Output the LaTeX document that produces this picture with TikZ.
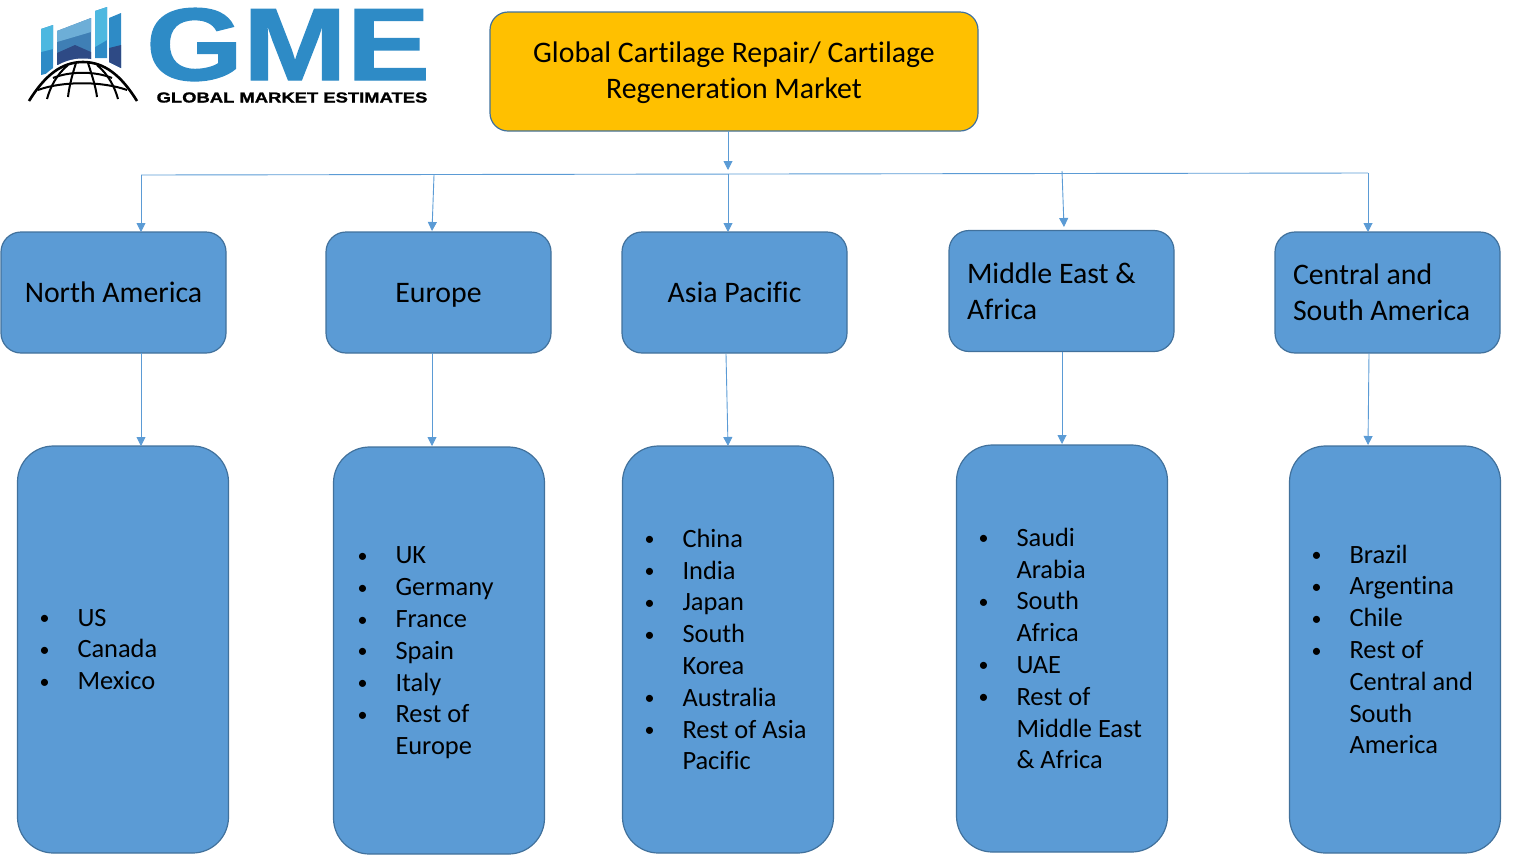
\documentclass[tikz,border=0pt]{standalone}
\usepackage{fontspec}
\setmainfont{Carlito}[Ligatures=NoCommon]
\newfontfamily\logofont{Liberation Sans}[FakeBold=1.2]
\usepackage{tikz}
\usetikzlibrary{positioning}
\usetikzlibrary{arrows.meta}

\definecolor{boxblue}{HTML}{5B9BD5}
\definecolor{boxedge}{HTML}{41719C}
\definecolor{gold}{HTML}{FFC000}
\definecolor{gmeblue}{HTML}{2E8BC6}
\definecolor{gmelight}{HTML}{4DB8E0}
\definecolor{gmemid}{HTML}{3F7FB5}
\definecolor{gmedark}{HTML}{2E4A85}

\tikzset{
    rootbox/.style={draw=boxedge, fill=gold, line width=1.2pt, rounded corners=18pt, outer sep=0pt, minimum width=488pt, minimum height=119pt, align=center, font=\fontsize{29.8}{36}\selectfont},
    regionbox/.style={draw=boxedge, fill=boxblue, line width=1.2pt, rounded corners=20pt, outer sep=0pt, minimum width=225pt, minimum height=121pt, font=\fontsize{29.8}{36}\selectfont},
    onelinebox/.style={regionbox, text height=19pt, text depth=0pt},
    twolinebox/.style={regionbox, align=flush left, text width=189pt, inner xsep=18pt},
    listbox/.style={draw=boxedge, fill=boxblue, line width=1.2pt, rounded corners=36pt, outer sep=0pt, minimum width=211pt, minimum height=407pt, inner xsep=10pt, text width=191pt, align=flush left, font=\fontsize{26.4}{31.8}\selectfont},
    link/.style={draw=boxblue, line width=0.9pt, -{Triangle[width=9pt,length=9pt]}},
    globeline/.style={draw=black, line width=2pt}
}
\newcommand{\bul}{\makebox[50pt][l]{\hspace{12pt}\raisebox{1.5pt}{\fontsize{20}{20}\selectfont\textbullet}}}
\newcommand{\nobul}{\makebox[50pt][l]{}}

\begin{document}
\begin{tikzpicture}[x=1pt, y=-1pt]
    \useasboundingbox (0,0) rectangle (1525,855);

    % logo
    \fill[gmeblue] (41,29) -- (53,25) -- (53,72) -- (41,75) -- cycle;
    \fill[gmelight] (41,29) -- (53,25) -- (53,49) -- (41,52) -- cycle;
    \fill[gmemid] (57,31) -- (91,18) -- (91,60) -- (57,65) -- cycle;
    \fill[gmedark] (57,53) -- (75,45) -- (91,52) -- (91,60) -- (57,65) -- cycle;
    \fill[gmeblue!70!white] (57,31) -- (91,18) -- (91,32) -- (57,42) -- cycle;
    \fill[gmeblue] (95,11) -- (107,7) -- (107,58) -- (95,58) -- cycle;
    \fill[gmelight] (95,11) -- (107,7) -- (107,40) -- (95,47) -- cycle;
    \fill[gmeblue] (109,18) -- (121,13) -- (121,68) -- (109,62) -- cycle;
    \fill[gmedark] (109,48) -- (121,45) -- (121,68) -- (109,62) -- cycle;
    \draw[white, line width=7pt] (29,101) .. controls (45,75) and (62,62) .. (83,62) .. controls (104,62) and (121,75) .. (137,101);
    \draw[globeline, line width=2.6pt] (29,101) .. controls (45,75) and (62,62) .. (83,62) .. controls (104,62) and (121,75) .. (137,101);
    \draw[globeline] (53,78) .. controls (70,71) and (95,71) .. (112,78);
    \draw[globeline] (38,90) .. controls (62,81) and (102,81) .. (127,90);
    \draw[globeline] (68,65) .. controls (56,75) and (50,88) .. (47,99);
    \draw[globeline] (76,63) .. controls (72,75) and (69,88) .. (68,97);
    \draw[globeline] (88,63) .. controls (92,75) and (96,88) .. (97,97);
    \draw[globeline] (97,65) .. controls (109,75) and (115,88) .. (118,99);

    \node[text=gmeblue, inner sep=0pt, text height=74pt, text depth=0pt, font=\logofont\bfseries\fontsize{103}{103}\selectfont, xscale=1.21] (gme) at (288,43) {GME};
    \node[inner sep=0pt, text height=11pt, text depth=0pt, font=\logofont\bfseries\fontsize{14.5}{14.5}\selectfont, xscale=1.27] (tagline) at (292,97) {GLOBAL MARKET ESTIMATES};

    % boxes
    \node[rootbox] (root) at (734,71.5) {\rule{0pt}{24pt}Global Cartilage Repair/ Cartilage\\Regeneration Market};

    \node[onelinebox] (na) at (113.5,292.5) {North America};
    \node[onelinebox, right=100pt of na] (eu) {Europe};
    \node[onelinebox, right=71pt of eu] (ap) {Asia Pacific};
    \node[twolinebox, right=102pt of ap, yshift=1.5pt] (mea) {Middle East \&\\Africa};
    \node[twolinebox, right=101pt of mea, yshift=-1.5pt] (csa) {Central and\\South America};

    \node[listbox] (nalist) at (123,649.5) {\bul US\\\bul Canada\\\bul Mexico};
    \node[listbox, right=105pt of nalist, yshift=-1pt, inner xsep=12pt, text width=187pt] (eulist) {\rule{0pt}{22pt}\bul UK\\\bul Germany\\\bul France\\\bul Spain\\\bul Italy\\\bul Rest of\\\nobul Europe};
    \node[listbox, right=78pt of eulist, yshift=1pt] (aplist) {\bul China\\\bul India\\\bul Japan\\\bul South\\\nobul Korea\\\bul Australia\\\bul Rest of Asia\\\nobul Pacific};
    \node[listbox, right=123pt of aplist, yshift=1pt] (mealist) {\bul Saudi\\\nobul Arabia\\\bul South\\\nobul Africa\\\bul UAE\\\bul Rest of\\\nobul Middle East\\\nobul \& Africa};
    \node[listbox, right=122pt of mealist, yshift=-1pt] (csalist) {\bul Brazil\\\bul Argentina\\\bul Chile\\\bul Rest of\\\nobul Central and\\\nobul South\\\nobul America};

    % connectors
    \coordinate (hub) at (728,174);
    \coordinate (busw) at (141,175);
    \coordinate (buse) at (1368,173);
    \coordinate (buseu) at (434,175);
    \coordinate (busmea) at (1062,171);

    \draw[link] (root.south -| hub) -- (728,170);
    \draw[draw=boxblue, line width=0.9pt] (busw) -- (buse);
    \draw[link] (busw) -- (busw |- na.north);
    \draw[link] (buseu) -- (432,231);
    \draw[link] (hub) -- (hub |- ap.north);
    \draw[link] (busmea) -- (1064,227);
    \draw[link] (buse) -- (buse |- csa.north);

    \draw[link] (busw |- na.south) -- (busw |- nalist.north);
    \draw[link] (432,353) -- (432,446);
    \draw[link] (726,354) -- (hub |- aplist.north);
    \draw[link] (1062,352) -- (1062,444);
    \draw[link] (1369,353) -- (1368,445);
\end{tikzpicture}
\end{document}
